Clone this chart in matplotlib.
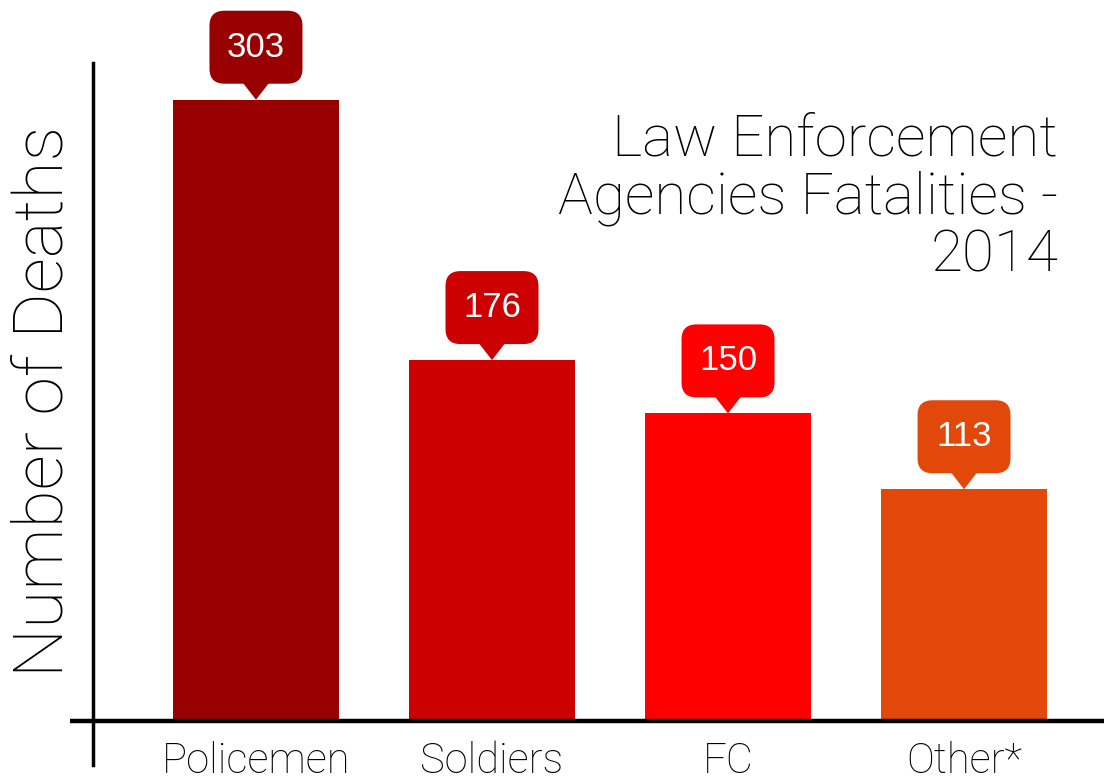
"""
Law enforcement agencies fatalities - 2014, bar chart with callout labels.
"""
import matplotlib
matplotlib.use('Agg')
import matplotlib.pyplot as plt
import matplotlib.transforms as mtransforms
from matplotlib.patches import FancyBboxPatch, Polygon

categories = ['Policemen', 'Soldiers', 'FC', 'Other*']
deaths = [303, 176, 150, 113]
colors = ['#990000', '#CC0000', '#FF0000', '#E2480A']
title_lines = ['Law Enforcement', 'Agencies Fatalities -', '2014']

plt.rcParams['font.family'] = ['Roboto', 'DejaVu Sans']

fig = plt.figure(figsize=(11.04, 7.8), dpi=100)
ax = fig.add_axes([70 / 1104, 15 / 780, 1034 / 1104, 735 / 780])

x = list(range(len(categories)))
ax.bar(x, deaths, width=0.70, color=colors, zorder=2)
ax.set_xlim(-0.788, 3.593)
ax.set_ylim(-21.5, 337)

for side in ax.spines.values():
    side.set_visible(False)
ax.set_xticks([])
ax.set_yticks([])

# crossing axis lines
ax.axhline(0, color='black', lw=3.2, zorder=3)
ax.plot([-0.691, -0.691], [-21.5, 321], color='black', lw=2.5, clip_on=False, zorder=3)

# category labels below the baseline
for xi, name in zip(x, categories):
    ax.text(xi, -25.5, name, ha='center', va='baseline', fontsize=30,
            fontweight='light', color='black')

fig.text(44 / 1104, 1 - 401 / 780, 'Number of Deaths', rotation=90, ha='center',
         va='center', fontsize=50, fontweight='light', color='black')

# title, right aligned, one text per line
for i, line in enumerate(title_lines):
    fig.text(1058 / 1104, 1 - (156 + 58 * i) / 780, line, ha='right',
             va='baseline', fontsize=42, fontweight='light', color='black')

# callouts: rounded box with a pointer, sizes in inches
for xi, val, col in zip(x, deaths, colors):
    t = fig.dpi_scale_trans + mtransforms.ScaledTranslation(xi, val, ax.transData)
    box = FancyBboxPatch((-0.465, 0.16), 0.93, 0.73,
                         boxstyle='round,pad=0,rounding_size=0.15',
                         transform=t, facecolor=col, edgecolor='none',
                         clip_on=False, zorder=4)
    ax.add_patch(box)
    tri = Polygon([(-0.14, 0.18), (0.14, 0.18), (0, 0.0)], closed=True,
                  transform=t, facecolor=col, edgecolor='none',
                  clip_on=False, zorder=4)
    ax.add_patch(tri)
    ax.text(0, 0.525, str(val), transform=t, ha='center', va='center',
            fontsize=25, color='white', family=['Liberation Sans', 'DejaVu Sans'],
            zorder=5)

fig.savefig('out.png', dpi=100)
